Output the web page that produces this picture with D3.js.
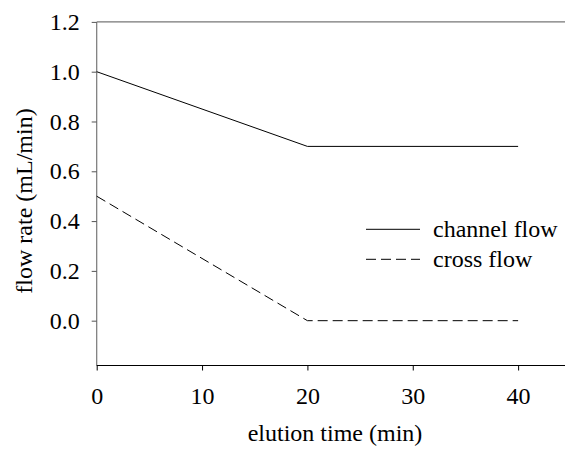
<!DOCTYPE html>
<html><head><meta charset="utf-8">
<script src="https://cdn.jsdelivr.net/npm/d3@7"></script>
<style>body{margin:0;background:#fff}text{font-family:"Liberation Serif","Times New Roman",serif;}</style>
</head><body>
<svg id="c" width="565" height="449"></svg>
<script>
const timeMin = [0, 20, 40];
const channelFlow = [1.0, 0.7, 0.7];
const crossFlow = [0.5, 0.0, 0.0];
const xTicks = [0, 10, 20, 30, 40];
const yTicks = [0.0, 0.2, 0.4, 0.6, 0.8, 1.0, 1.2];
const seriesNames = ["channel flow", "cross flow"];

const FS = 24;
const svg = d3.select("#c");
const L = 96.7, R = 565, T = 21.9, B = 365.5;
const x = d3.scaleLinear().domain([0, 44.45]).range([L, R]);
const y = d3.scaleLinear().domain([-0.18, 1.2]).range([B, T]);

// top border
svg.append("line").attr("x1", L).attr("x2", R).attr("y1", T).attr("y2", T)
  .attr("stroke", "#777").attr("stroke-width", 1.2);

// y axis
const gy = svg.append("g").attr("transform", `translate(${L},0)`)
  .call(d3.axisLeft(y).tickValues(yTicks).tickFormat(d3.format(".1f")).tickSize(5).tickPadding(12));
gy.select(".domain").attr("stroke", "#777").attr("stroke-width", 1.2).attr("d", `M0,${B}V${T}`);
gy.selectAll(".tick line").attr("stroke", "#555");
gy.selectAll("text").attr("font-size", FS).attr("fill", "#000")
  .style("font-family", "'Liberation Serif', serif");

// x axis
const gx = svg.append("g").attr("transform", `translate(0,${B})`)
  .call(d3.axisBottom(x).tickValues(xTicks).tickFormat(d3.format("d")).tickSizeInner(5).tickSizeOuter(0).tickPadding(16));
gx.select(".domain").attr("stroke", "#000").attr("d", `M${L},0H${R}`);
gx.selectAll("text").attr("font-size", FS).attr("fill", "#000")
  .style("font-family", "'Liberation Serif', serif");

const line = d3.line().x((d, i) => x(timeMin[i])).y(d => y(d));
svg.append("path").datum(channelFlow).attr("d", line)
  .attr("fill", "none").attr("stroke", "#000").attr("stroke-width", 1);
svg.append("path").datum(crossFlow).attr("d", line)
  .attr("fill", "none").attr("stroke", "#000").attr("stroke-width", 1).attr("stroke-dasharray", "10,5");

// legend
const dashes = [null, "10,5"];
seriesNames.forEach((n, i) => {
  const yy = 229.3 + i * 30;
  svg.append("line").attr("x1", 366).attr("x2", 420).attr("y1", yy).attr("y2", yy)
    .attr("stroke", "#000").attr("stroke-width", 1).attr("stroke-dasharray", dashes[i]);
  svg.append("text").attr("x", 433).attr("y", yy + 7.5).attr("font-size", FS).text(n);
});

// axis titles
svg.append("text").attr("x", 335).attr("y", 440.5).attr("text-anchor", "middle").attr("font-size", FS).text("elution time (min)");
svg.append("text").attr("transform", "translate(32,201) rotate(-90)").attr("text-anchor", "middle").attr("font-size", FS).text("flow rate (mL/min)");
</script>
</body></html>
